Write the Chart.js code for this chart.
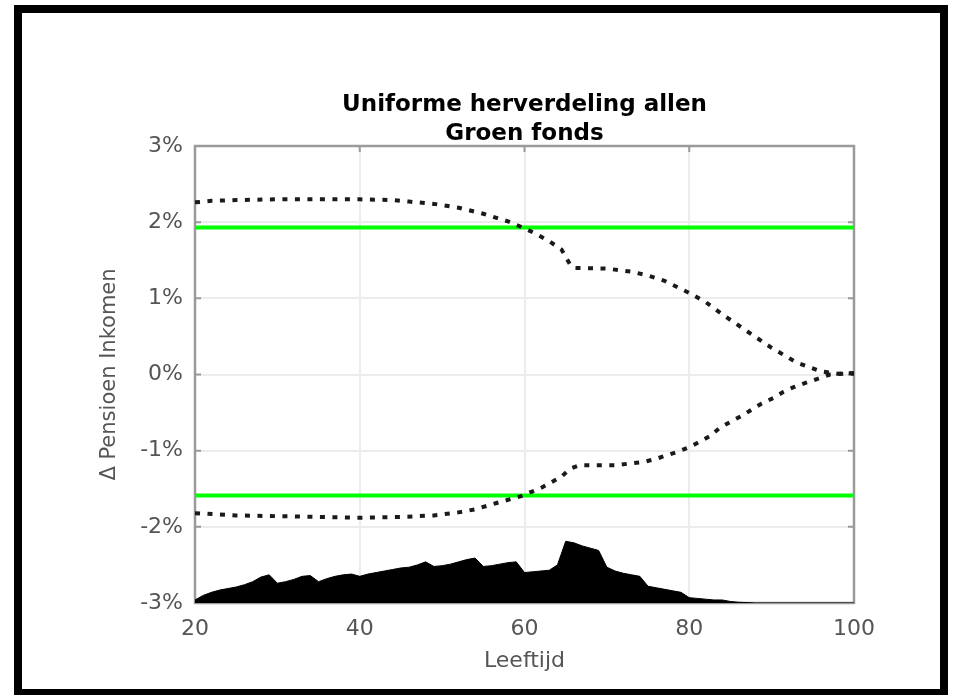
<!DOCTYPE html>
<html>
<head>
<meta charset="utf-8">
<script src="https://cdn.jsdelivr.net/npm/chart.js@4"></script>
<style>
  body { margin: 0; background: #fff; }
  #wrap { position: relative; width: 954px; height: 695px; overflow: hidden; }
  #myChart { position: absolute; left: 0; top: 0; }
  #frame { position: absolute; left: 14px; top: 5px; width: 934px; height: 692px;
           box-sizing: border-box; border: 8px solid #000; pointer-events: none; }
</style>
</head>
<body>
<div id="wrap">
  <canvas id="myChart" width="954" height="695"></canvas>
  <div id="frame"></div>
</div>
<script>
// data
const upperAge = [20, 22, 25, 30, 35, 40, 44, 46, 49, 52, 55, 58, 60, 61.5, 63, 64.5, 65.5, 66, 70, 73, 75, 77, 80, 82, 84, 87, 90, 93, 96, 98, 100];
const upperVal = [2.26, 2.28, 2.29, 2.30, 2.30, 2.30, 2.29, 2.27, 2.24, 2.19, 2.11, 2.01, 1.92, 1.84, 1.75, 1.64, 1.45, 1.40, 1.39, 1.35, 1.30, 1.23, 1.07, 0.95, 0.79, 0.57, 0.35, 0.16, 0.04, 0.01, 0.02];

const lowerAge = [20, 25, 30, 35, 40, 45, 49, 52, 54, 56.5, 59.5, 62, 64.5, 65.5, 66.7, 71, 74.4, 75.9, 77.3, 78.7, 80.1, 81.3, 82.5, 83.7, 85.2, 86.4, 87.6, 88.8, 90.2, 91.4, 92.6, 94.1, 95.5, 97.1, 98.7, 100];
const lowerVal = [-1.82, -1.85, -1.86, -1.87, -1.88, -1.87, -1.85, -1.81, -1.77, -1.69, -1.60, -1.49, -1.34, -1.24, -1.19, -1.19, -1.15, -1.11, -1.06, -1.01, -0.95, -0.88, -0.81, -0.70, -0.61, -0.54, -0.46, -0.38, -0.31, -0.23, -0.17, -0.11, -0.06, 0.00, 0.01, 0.01];

const greenUpper = 1.93;
const greenLower = -1.59;

const areaAge = [20, 21, 22, 23, 24, 25, 26, 27, 28, 29, 30, 31, 32, 33, 34, 35, 36, 37, 38, 39,
                 40, 41, 42, 43, 44, 45, 46, 47, 48, 49, 50, 51, 52, 53, 54, 55, 56, 57, 58, 59,
                 60, 61, 62, 63, 64, 65, 66, 67, 68, 69, 70, 71, 72, 73, 74, 75, 76, 77, 78, 79,
                 80, 81, 82, 83, 84, 85, 86, 87, 88, 100];
const areaVal = [-2.96, -2.90, -2.86, -2.83, -2.81, -2.79, -2.76, -2.72, -2.66, -2.63, -2.74, -2.72, -2.69, -2.65, -2.64, -2.72, -2.68, -2.65, -2.63, -2.62,
                 -2.65, -2.62, -2.60, -2.58, -2.56, -2.54, -2.53, -2.50, -2.46, -2.52, -2.51, -2.49, -2.46, -2.43, -2.41, -2.52, -2.51, -2.49, -2.47, -2.46,
                 -2.60, -2.59, -2.58, -2.57, -2.50, -2.19, -2.21, -2.25, -2.28, -2.31, -2.53, -2.58, -2.61, -2.63, -2.65, -2.78, -2.80, -2.82, -2.84, -2.86,
                 -2.93, -2.94, -2.95, -2.96, -2.96, -2.98, -2.99, -2.995, -3, -3];

const xTicks = [20, 40, 60, 80, 100];
const yTicks = [-3, -2, -1, 0, 1, 2, 3];

const pts = (xs, ys) => xs.map((x, i) => ({x: x, y: ys[i]}));
const font = 'DejaVu Sans';

// axes box with inward tick marks
const boxPlugin = {
  id: 'box',
  beforeDatasetsDraw(chart) {
    const {ctx, chartArea: a, scales} = chart;
    ctx.save();
    ctx.strokeStyle = '#9a9a9a';
    ctx.lineWidth = 2.5;
    ctx.strokeRect(a.left, a.top, a.width, a.height);
    ctx.lineWidth = 2;
    ctx.beginPath();
    xTicks.forEach(t => {
      const px = scales.x.getPixelForValue(t);
      ctx.moveTo(px, a.bottom); ctx.lineTo(px, a.bottom - 6);
      ctx.moveTo(px, a.top); ctx.lineTo(px, a.top + 6);
    });
    yTicks.forEach(t => {
      const py = scales.y.getPixelForValue(t);
      ctx.moveTo(a.left, py); ctx.lineTo(a.left + 6, py);
      ctx.moveTo(a.right, py); ctx.lineTo(a.right - 6, py);
    });
    ctx.stroke();
    ctx.restore();
  }
};

const myChart = document.getElementById('myChart');

new Chart(myChart, {
  type: 'line',
  data: {
    datasets: [{
      data: pts(upperAge, upperVal),
      borderColor: '#1a1a1a',
      borderWidth: 4,
      borderDash: [5, 7.5],
      pointRadius: 0,
      fill: false
    }, {
      data: pts(lowerAge, lowerVal),
      borderColor: '#1a1a1a',
      borderWidth: 4,
      borderDash: [5, 7.5],
      pointRadius: 0,
      fill: false
    }, {
      data: pts([20, 100], [greenUpper, greenUpper]),
      borderColor: '#00ff00',
      borderWidth: 4,
      pointRadius: 0,
      fill: false
    }, {
      data: pts([20, 100], [greenLower, greenLower]),
      borderColor: '#00ff00',
      borderWidth: 4,
      pointRadius: 0,
      fill: false
    }, {
      data: pts(areaAge, areaVal),
      borderColor: '#000',
      backgroundColor: '#000',
      borderWidth: 1,
      pointRadius: 0,
      fill: 'start'
    }]
  },
  options: {
    responsive: false,
    animation: false,
    layout: { padding: { left: 0, right: 100, top: 0, bottom: 0 } },
    plugins: {
      legend: { display: false },
      tooltip: { enabled: false },
      title: {
        display: true,
        fullSize: false,
        text: ['Uniforme herverdeling allen', 'Groen fonds'],
        color: '#000',
        font: { family: font, size: 23, weight: 'bold', lineHeight: '29px' },
        padding: { top: 91, bottom: -3 }
      }
    },
    scales: {
      x: {
        type: 'linear',
        min: 20,
        max: 100,
        afterFit: s => { s.height = 92; },
        afterBuildTicks: s => { s.ticks = xTicks.map(v => ({value: v})); },
        grid: { color: '#ececec', lineWidth: 2, drawTicks: false },
        border: { display: false },
        ticks: { color: '#555', padding: 13, font: { family: font, size: 22 } },
        title: {
          display: true,
          text: 'Leeftijd',
          color: '#555',
          font: { family: font, size: 22 },
          padding: { top: 0, bottom: 21 }
        }
      },
      y: {
        min: -3,
        max: 3,
        afterFit: s => { s.width = 195; },
        afterBuildTicks: s => { s.ticks = yTicks.map(v => ({value: v})); },
        grid: { color: '#ececec', lineWidth: 2, drawTicks: false },
        border: { display: false },
        ticks: {
          color: '#555',
          padding: 12,
          font: { family: font, size: 22 },
          callback: v => v + '%'
        },
        title: {
          display: true,
          text: 'Δ Pensioen Inkomen',
          color: '#555',
          font: { family: font, size: 21 },
          padding: { top: 97, bottom: 0 }
        }
      }
    }
  },
  plugins: [boxPlugin]
});
</script>
</body>
</html>
